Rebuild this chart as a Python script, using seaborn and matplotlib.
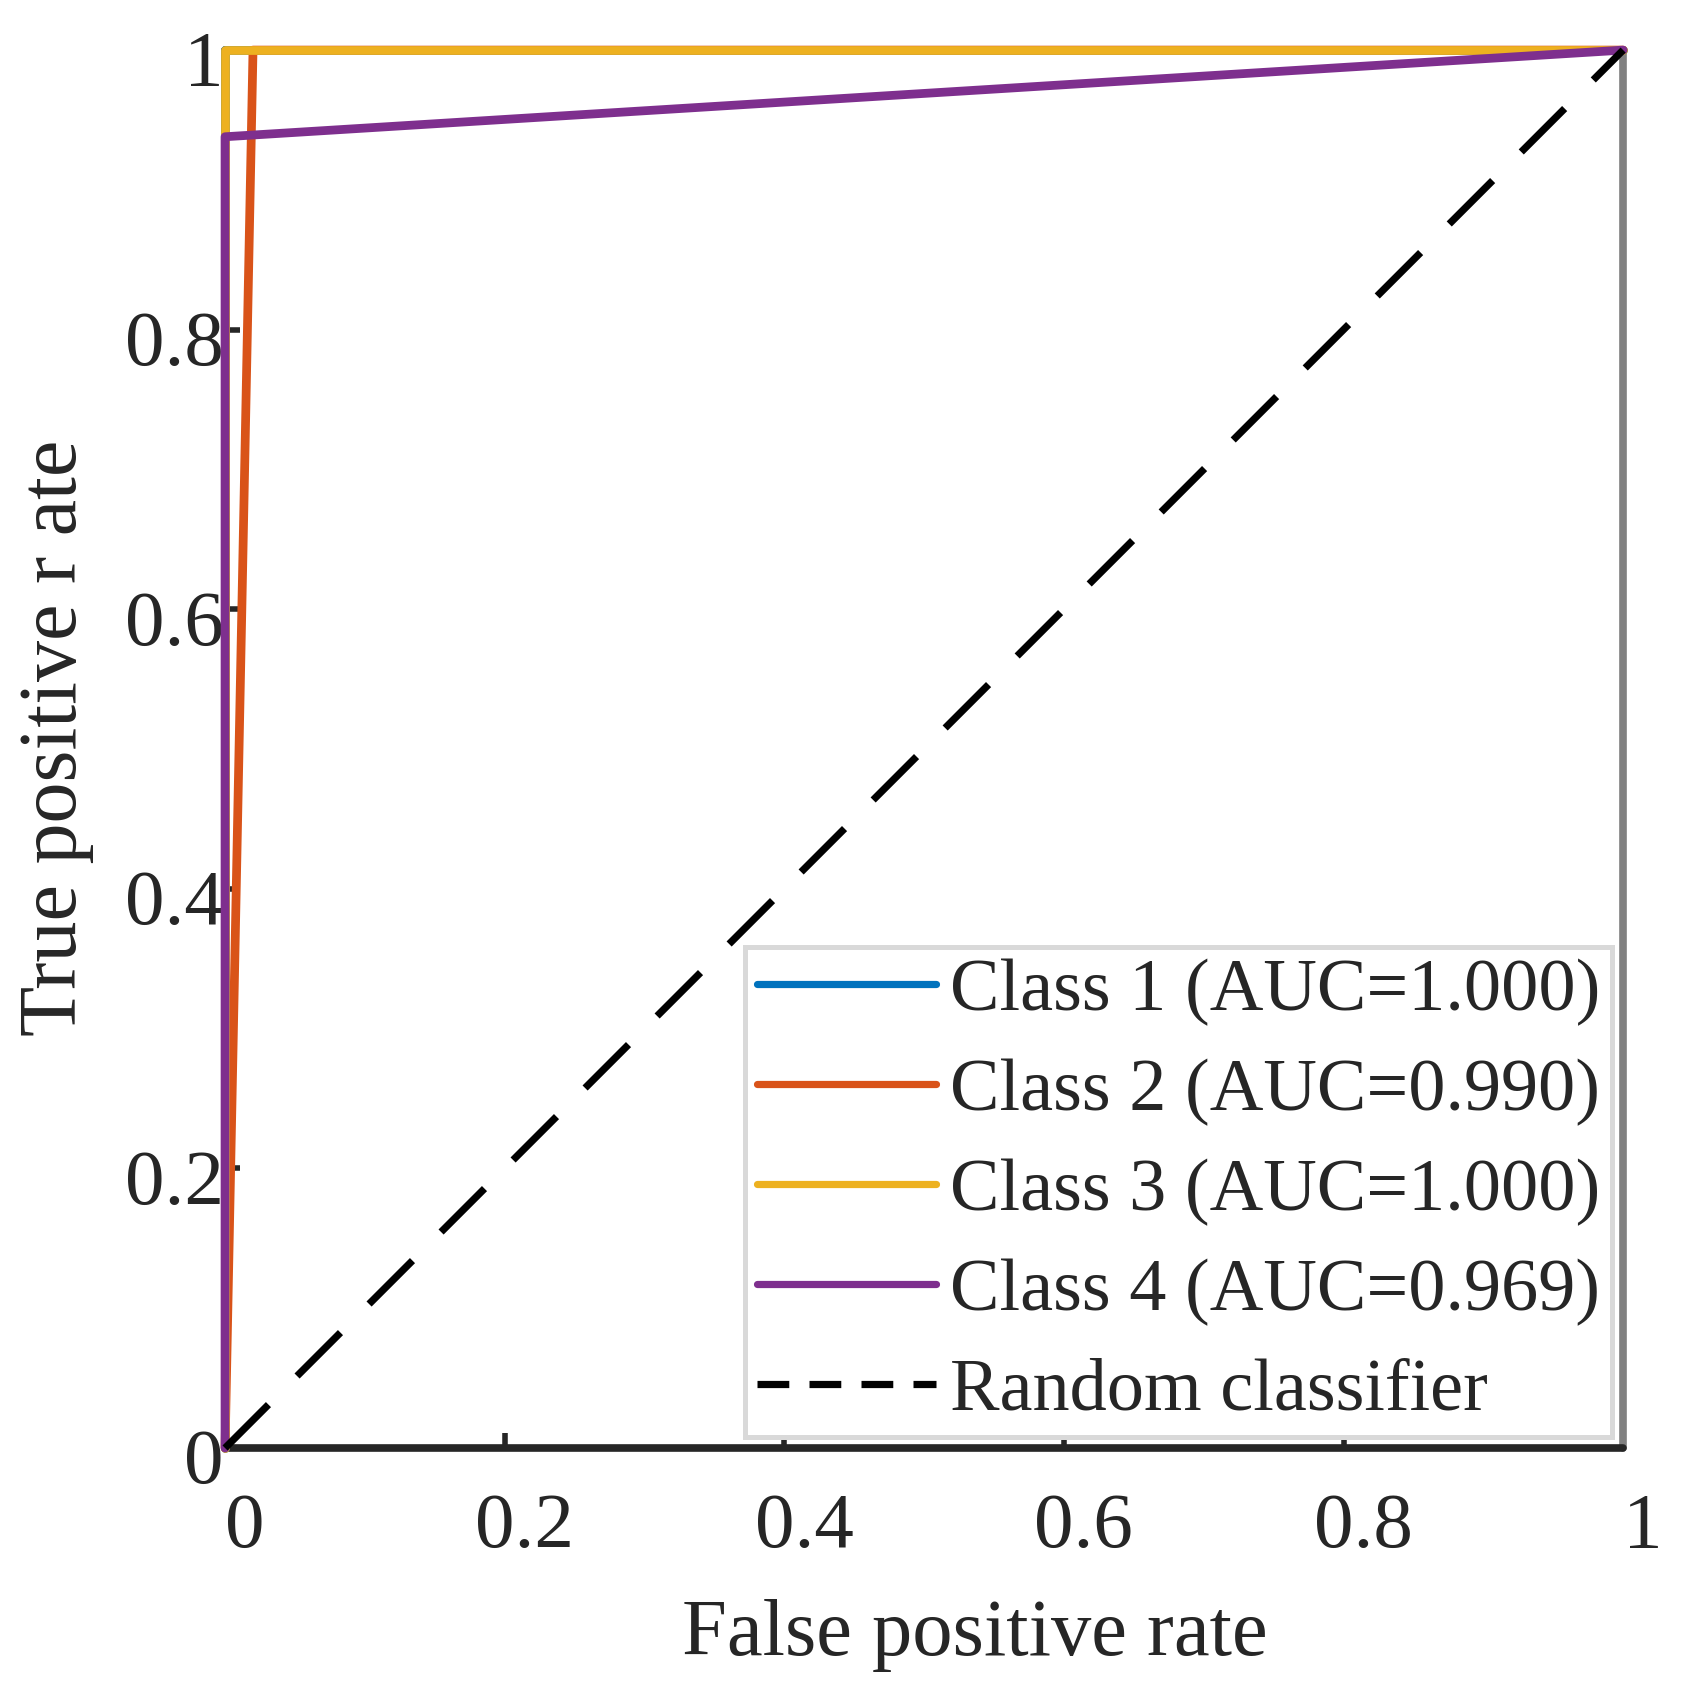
import pandas as pd
import seaborn as sns
import matplotlib.pyplot as plt
from matplotlib.transforms import ScaledTranslation

# ROC curve points
classes = ["Class 1", "Class 2", "Class 3", "Class 4"]
auc_values = [1.000, 0.990, 1.000, 0.969]
fpr_points = [[0, 0, 1], [0, 0.02, 1], [0, 0, 1], [0, 0, 1]]
tpr_points = [[0, 1, 1], [0, 1, 1], [0, 1, 1], [0, 0.938, 1]]
class_colors = ["#0072BD", "#D95319", "#EDB120", "#7E2F8E"]
random_fpr = [0, 1]
random_tpr = [0, 1]
tick_values = [0, 0.2, 0.4, 0.6, 0.8, 1]
tick_labels = ["0", "0.2", "0.4", "0.6", "0.8", "1"]

sns.set_theme(style="white")
plt.rcParams["font.family"] = ["Liberation Serif", "DejaVu Serif"]
plt.rcParams["text.color"] = "#262626"

rows = []
for name, auc, xs, ys in zip(classes, auc_values, fpr_points, tpr_points):
    label = f"{name} (AUC={auc:.3f})"
    for step, (x, y) in enumerate(zip(xs, ys)):
        rows.append({"fpr": x, "tpr": y, "curve": label, "step": step})
roc = pd.DataFrame(rows)
labels = list(dict.fromkeys(roc["curve"]))

fig = plt.figure(figsize=(16.82, 16.92), dpi=100)
ax = fig.add_axes([0.1338, 0.1442, 0.8312, 0.8262])

sns.lineplot(data=roc, x="fpr", y="tpr", hue="curve", hue_order=labels,
             palette=class_colors, sort=False, estimator=None, lw=6.3,
             ax=ax, zorder=3)
sns.lineplot(x=random_fpr, y=random_tpr, color="black", lw=5.2, ax=ax,
             label="Random classifier", zorder=3)
for line in ax.lines:
    line.set_solid_capstyle("round")
    line.set_clip_on(False)
ax.lines[-1].set_dashes((8.5, 5.6))

ax.set_xlim(0, 1)
ax.set_ylim(0, 1)
ax.set_xticks(tick_values, tick_labels)
ax.set_yticks(tick_values, tick_labels)
ax.tick_params(axis="both", direction="in", length=11, width=4,
               color="#262626", labelsize=57, labelcolor="#262626",
               bottom=True, left=True, top=False, right=False)
ax.tick_params(axis="x", pad=32)
ax.tick_params(axis="y", pad=1)
for lab in ax.get_xticklabels():
    lab.set_transform(lab.get_transform() + ScaledTranslation(0.2, 0, fig.dpi_scale_trans))
for lab in ax.get_yticklabels():
    lab.set_transform(lab.get_transform() + ScaledTranslation(0, -0.08, fig.dpi_scale_trans))

for side in ["left", "bottom"]:
    ax.spines[side].set_color("#262626")
for side in ["top", "right"]:
    ax.spines[side].set_color("#808080")
for sp in ax.spines.values():
    sp.set_linewidth(5.5)
    sp.set_capstyle("round")

ax.set_xlabel("False positive rate", fontsize=58)
ax.set_ylabel("True positive r ate", fontsize=59)
ax.xaxis.set_label_coords(0.536, -0.108)
ax.yaxis.set_label_coords(-0.094, 0.508)

handles, leg_labels = ax.get_legend_handles_labels()
leg = ax.legend(handles, leg_labels, loc="lower right", bbox_to_anchor=(1, 0),
                fontsize=53.5, frameon=True, fancybox=False, framealpha=1,
                edgecolor="#d9d9d9", borderpad=0.15, labelspacing=0.43,
                handlelength=2.42, handletextpad=0.19, borderaxespad=0.15)
leg.get_frame().set_linewidth(3.6)
for h in leg.get_lines():
    h.set_linewidth(5.2)
    h.set_solid_capstyle("round")
leg.get_lines()[-1].set_dashes((4.4, 2.8))

fig.savefig("out.png", dpi=100)
